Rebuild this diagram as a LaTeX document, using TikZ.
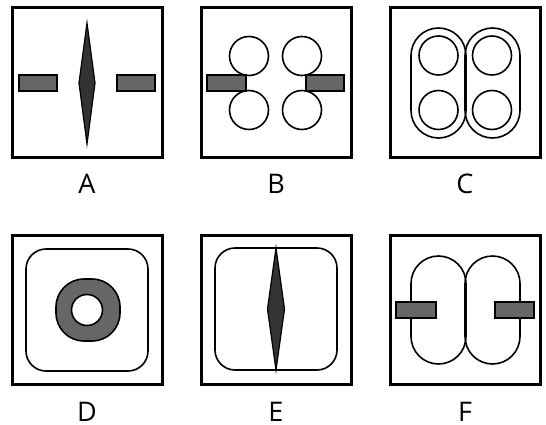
\documentclass[tikz,border=0pt]{standalone}
\usepackage{fontspec}
\setmainfont{Open Sans}
\definecolor{bargray}{HTML}{666666}
\definecolor{darkgray}{HTML}{333333}
\tikzset{
    panel/.style={draw, line width=3pt},
    outline/.style={draw, line width=1.6pt},
    bar/.style={draw, line width=1.2pt, fill=bargray},
    needle/.style={draw, line width=1.2pt, fill=darkgray, line join=miter},
    caption/.style={font=\fontsize{27}{32}\selectfont, anchor=base, inner sep=0pt}
}
\begin{document}
\begin{tikzpicture}[x=1pt, y=-1pt]
        \useasboundingbox (0, 0) rectangle (546, 425);
        % frames and letters
        \foreach \px/\py/\name in {87/82.5/A, 276/82.5/B, 465/82.5/C, 87/310/D, 276/310/E, 465/310/F} {
            \draw[panel] (\px-75, \py-74.5) rectangle (\px+75, \py+74.5);
            \node[caption] (label\name) at (\px, \py+111) {\name};
        }
        % A
        \draw[needle] (87, 23) -- (95, 83) -- (87, 144) -- (79, 83) -- cycle;
        \draw[bar] (19, 75) rectangle (57, 91);
        \draw[bar] (117, 75) rectangle (155, 91);
        % B
        \foreach \cx in {249, 302} {
            \draw[outline] (\cx, 56) circle (19.5);
            \draw[outline] (\cx, 110) circle (19.5);
        }
        \draw[bar] (207, 75) rectangle (246, 91);
        \draw[bar] (306, 75) rectangle (344, 91);
        % C
        \draw[outline, rounded corners=27.5pt] (411, 28) rectangle (466, 138);
        \draw[outline, rounded corners=27.5pt] (465, 28) rectangle (520, 138);
        \foreach \cx in {438.5, 492} {
            \draw[outline] (\cx, 55.5) circle (19.5);
            \draw[outline] (\cx, 110) circle (19.5);
        }
        % D
        \draw[outline, rounded corners=20pt] (26, 249) rectangle (148, 371);
        \draw[bar, line width=1.6pt, rounded corners=28pt] (56, 279) rectangle (120, 341);
        \draw[outline, fill=white] (87, 310) circle (15.5);
        % E
        \draw[outline, rounded corners=20pt] (215, 248) rectangle (337, 370);
        \draw[needle] (276, 248) -- (284.5, 309) -- (276, 370) -- (267.5, 309) -- cycle;
        % F
        \draw[outline, rounded corners=27.5pt] (411, 256) rectangle (466, 364);
        \draw[outline, rounded corners=27.5pt] (465, 256) rectangle (520, 364);
        \draw[bar] (396, 302) rectangle (436, 318);
        \draw[bar] (495, 302) rectangle (534, 318);
    \end{tikzpicture}
\end{document}
